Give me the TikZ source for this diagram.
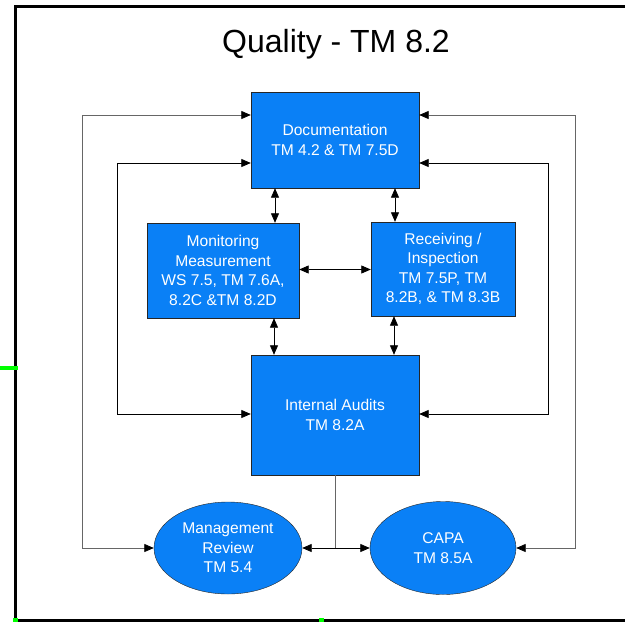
\documentclass[tikz,border=0pt]{standalone}
\usepackage{fontspec}
\setmainfont{Liberation Sans}
\usetikzlibrary{arrows.meta, shapes.geometric, positioning}
\definecolor{procblue}{RGB}{10,128,246}
\definecolor{markgreen}{RGB}{0,255,0}
\newcommand\procfont{\fontsize{15.6}{19.5}\selectfont}

\begin{document}
\begin{tikzpicture}[x=1pt, y=-1pt,
            proc/.style={draw=black!85, fill=procblue, text=white, align=center,
                         inner sep=0pt, font=\procfont},
            oval/.style={proc, ellipse},
            arr/.style={-{Triangle[length=9.5pt, width=8pt, color=black]}, line width=0.8pt},
            both/.style={arr, {Triangle[length=9.5pt, width=8pt, color=black]}-{Triangle[length=9.5pt, width=8pt, color=black]}},
            feed/.style={both, draw=black!60}
        ]
        \useasboundingbox (0,0) rectangle (625,622);

        % --- frame ---
        \draw[line width=3pt] (625,6) -- (15,6) -- (15,620) -- (625,620);
        \draw[markgreen, line width=4pt] (0,368) -- (18,368);
        \fill[markgreen] (13,618) rectangle (18,622);
        \fill[markgreen] (319,618) rectangle (324,622);

        % --- title ---
        \node[font=\fontsize{32}{38}\selectfont] (title) at (336,44) {Quality - TM 8.2};

        % --- boxes ---
        \node[proc, minimum width=168pt, minimum height=96pt] (doc) at (335,140)
            {Documentation\\TM 4.2 \& TM 7.5D};
        \node[proc, minimum width=152pt, minimum height=95pt] (mon) at (223,270.5)
            {Monitoring\\Measurement\\WS 7.5, TM 7.6A,\\8.2C \&TM 8.2D};
        \node[proc, minimum width=144pt, minimum height=94pt] (rec) at (443,269)
            {Receiving /\\Inspection\\TM 7.5P, TM\\8.2B, \& TM 8.3B};
        \node[proc, minimum width=168pt, minimum height=120pt] (ia) at (335,415)
            {Internal Audits\\TM 8.2A};
        \node[oval, minimum width=148pt, minimum height=92pt] (mr) at (228,548)
            {Management\\Review\\TM 5.4};
        \node[oval, minimum width=146pt, minimum height=93pt] (capa) at (443,548)
            {CAPA\\TM 8.5A};

        % --- links between boxes ---
        \draw[both] ([xshift=-60pt]doc.south) -- ([xshift=-60pt]doc.south |- mon.north);
        \draw[both] ([xshift=60pt]doc.south) -- ([xshift=60pt]doc.south |- rec.north);
        \draw[both] ([xshift=-61pt]ia.north) -- ([xshift=-61pt]ia.north |- mon.south);
        \draw[both] ([xshift=59pt]ia.north) -- ([xshift=59pt]ia.north |- rec.south);
        \draw[both] ([yshift=1pt]mon.east) -- ([yshift=1pt]mon.east -| rec.west);

        % --- feedback loops ---
        \draw[feed] ([yshift=25pt]doc.west) -- ++(-168,0) |- (mr.west);
        \draw[both] ([yshift=-23pt]doc.west) -- ++(-133,0) |- ([yshift=1pt]ia.west);
        \draw[feed] ([yshift=25pt]doc.east) -- ++(156,0) |- (capa.east);
        \draw[both] ([yshift=-23pt]doc.east) -- ++(129,0) |- ([yshift=1pt]ia.east);

        % --- audits to review and CAPA ---
        \coordinate (split) at (ia.south |- mr.east);
        \draw[line width=0.8pt, black!60] (ia.south) -- (split);
        \draw[arr] (split) -- (mr.east);
        \draw[arr] (split) -- (capa.west);
        \end{tikzpicture}
\end{document}
